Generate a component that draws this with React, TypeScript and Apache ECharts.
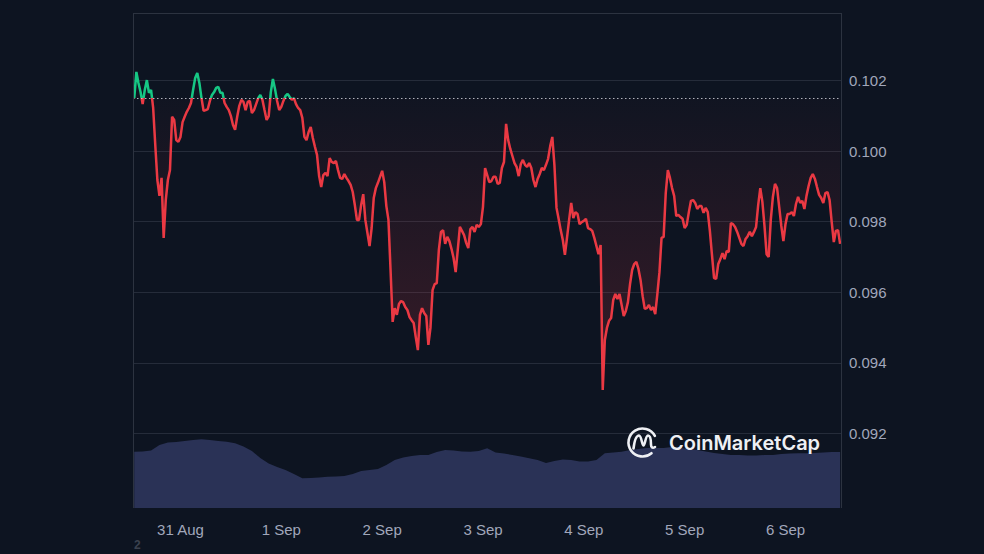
import React, { useEffect, useRef } from "react";
import * as echarts from "echarts";

// Time is measured in hours since 30 Aug 00:00
const START_HOUR = 13;
const PRICE_STEP_HOURS = 0.5;
const VOLUME_STEP_HOURS = 2;
const AXIS_MIN_HOUR = 12.7;
const AXIS_MAX_HOUR = 181.45;

const PRICE_AXIS_MIN = 0.0901;
const PRICE_AXIS_MAX = 0.10391;

const prices = [
  0.10150, 0.10224, 0.10193, 0.10167, 0.10133, 0.10173, 0.10201, 0.10165, 0.10173, 0.10122,
  0.10017, 0.09918, 0.09873, 0.09924, 0.09754, 0.09861, 0.09918, 0.09946, 0.10097, 0.10088,
  0.10031, 0.10026, 0.10040, 0.10082, 0.10097, 0.10111, 0.10122, 0.10136, 0.10173, 0.10207,
  0.10221, 0.10193, 0.10150, 0.10114, 0.10116, 0.10119, 0.10142, 0.10159, 0.10167, 0.10179,
  0.10182, 0.10165, 0.10165, 0.10136, 0.10125, 0.10116, 0.10099, 0.10074, 0.10060, 0.10097,
  0.10128, 0.10145, 0.10139, 0.10116, 0.10139, 0.10142, 0.10108, 0.10116, 0.10133, 0.10150,
  0.10159, 0.10145, 0.10116, 0.10088, 0.10099, 0.10167, 0.10204, 0.10176, 0.10142, 0.10116,
  0.10125, 0.10142, 0.10156, 0.10162, 0.10153, 0.10145, 0.10150, 0.10133, 0.10122, 0.10116,
  0.10094, 0.10040, 0.10031, 0.10054, 0.10068, 0.10037, 0.10012, 0.09989, 0.09929, 0.09898,
  0.09932, 0.09938, 0.09929, 0.09980, 0.09969, 0.09966, 0.09972, 0.09946, 0.09924, 0.09921,
  0.09935, 0.09924, 0.09915, 0.09904, 0.09884, 0.09847, 0.09805, 0.09805, 0.09847, 0.09878,
  0.09805, 0.09768, 0.09731, 0.09782, 0.09867, 0.09895, 0.09910, 0.09927, 0.09944, 0.09912,
  0.09844, 0.09805, 0.09663, 0.09516, 0.09555, 0.09536, 0.09567, 0.09575, 0.09572, 0.09558,
  0.09550, 0.09530, 0.09521, 0.09513, 0.09473, 0.09436, 0.09536, 0.09555, 0.09541, 0.09533,
  0.09451, 0.09499, 0.09606, 0.09623, 0.09626, 0.09720, 0.09771, 0.09776, 0.09737, 0.09757,
  0.09745, 0.09723, 0.09697, 0.09657, 0.09720, 0.09785, 0.09774, 0.09762, 0.09740, 0.09725,
  0.09779, 0.09785, 0.09771, 0.09791, 0.09785, 0.09793, 0.09842, 0.09952, 0.09932, 0.09912,
  0.09915, 0.09927, 0.09927, 0.09907, 0.09910, 0.09952, 0.09969, 0.10077, 0.10031, 0.10006,
  0.09986, 0.09966, 0.09955, 0.09929, 0.09963, 0.09975, 0.09961, 0.09955, 0.09966, 0.09952,
  0.09918, 0.09898, 0.09921, 0.09935, 0.09952, 0.09946, 0.09961, 0.09978, 0.10014, 0.10040,
  0.09961, 0.09839, 0.09808, 0.09776, 0.09748, 0.09706, 0.09754, 0.09805, 0.09853, 0.09810,
  0.09827, 0.09822, 0.09793, 0.09799, 0.09802, 0.09808, 0.09782, 0.09779, 0.09774, 0.09754,
  0.09731, 0.09708, 0.09734, 0.09323, 0.09465, 0.09499, 0.09519, 0.09527, 0.09578, 0.09595,
  0.09581, 0.09595, 0.09564, 0.09533, 0.09547, 0.09572, 0.09623, 0.09663, 0.09680, 0.09686,
  0.09666, 0.09635, 0.09589, 0.09553, 0.09555, 0.09564, 0.09550, 0.09558, 0.09538, 0.09595,
  0.09657, 0.09754, 0.09757, 0.09881, 0.09946, 0.09924, 0.09895, 0.09873, 0.09816, 0.09819,
  0.09813, 0.09808, 0.09782, 0.09791, 0.09827, 0.09859, 0.09861, 0.09853, 0.09836, 0.09844,
  0.09844, 0.09825, 0.09839, 0.09827, 0.09774, 0.09706, 0.09640, 0.09638, 0.09680, 0.09694,
  0.09711, 0.09694, 0.09717, 0.09714, 0.09796, 0.09793, 0.09785, 0.09771, 0.09754, 0.09737,
  0.09731, 0.09751, 0.09759, 0.09771, 0.09759, 0.09771, 0.09785, 0.09847, 0.09895, 0.09856,
  0.09788, 0.09708, 0.09700, 0.09805, 0.09870, 0.09907, 0.09895, 0.09842, 0.09788, 0.09745,
  0.09793, 0.09822, 0.09822, 0.09827, 0.09816, 0.09850, 0.09870, 0.09853, 0.09859, 0.09836,
  0.09873, 0.09901, 0.09924, 0.09935, 0.09921, 0.09898, 0.09876, 0.09867, 0.09853, 0.09881,
  0.09884, 0.09861, 0.09799, 0.09742, 0.09774, 0.09776, 0.09737,
];

// Volume, in millions (relative heights)
const volumes = [
  5.63, 5.65, 5.75, 6.3, 6.55, 6.6, 6.7, 6.8, 6.87, 6.8,
  6.7, 6.63, 6.47, 6.15, 5.7, 5.0, 4.45, 4.1, 3.8, 3.4,
  2.97, 3.0, 3.05, 3.13, 3.15, 3.2, 3.4, 3.7, 3.8, 3.9,
  4.3, 4.8, 5.05, 5.2, 5.3, 5.3, 5.6, 5.8, 5.75, 5.65,
  5.63, 5.7, 5.97, 5.55, 5.45, 5.3, 5.15, 4.97, 4.8, 4.5,
  4.7, 4.85, 4.8, 4.65, 4.65, 4.8, 5.47, 5.55, 5.63, 5.8,
  5.9, 6.0, 6.0, 6.0, 6.1, 6.0, 5.9, 5.8, 5.65, 5.5,
  5.4, 5.3, 5.3, 5.25, 5.25, 5.3, 5.3, 5.4, 5.45, 5.47,
  5.47, 5.5, 5.55, 5.6, 5.6,
];
const VOLUME_AXIS_MAX = 10;

const dayTickHours = [24, 48, 72, 96, 120, 144, 168];
const dayTickLabels = ["31 Aug", "1 Sep", "2 Sep", "3 Sep", "4 Sep", "5 Sep", "6 Sep"];

const RED = "#ea3943";
const GREEN = "#16c784";
const BG = "#0d1421";
const LABEL = "#a1a7bb";
const GRIDLINE = "#252c3a";
const BORDER = "#2c3340";
const VOLUME = "#2a3256";

const LOGO_PATH =
  "M28.36 9.43 A14 14 0 1 0 25 26.72 " +
  "M7 22 C8 14 10 9 12.5 9 C15 9 15.5 19 17 19 C18.5 19 19 9 21.5 9 C24 9 24.5 15 24.5 18 C24.5 21 26 22 28.5 20.5";

let logoRegistered = false;

export default function App() {
  const ref = useRef<HTMLDivElement>(null);

  useEffect(() => {
    if (!ref.current) return;
    if (!logoRegistered) {
      echarts.graphic.registerShape("cmcLogo", echarts.graphic.extendPath(LOGO_PATH, {}));
      logoRegistered = true;
    }
    const chart = echarts.init(ref.current, null, { renderer: "svg" });
    const base = prices[0];
    const labelFont = "'Liberation Sans', Arial, sans-serif";

    const option: any = {
      animation: false,
      backgroundColor: BG,
      grid: [
        { left: 133, right: 142, top: 13, bottom: 53.43 },
        { left: 133, right: 142, top: 408, bottom: 46 },
      ],
      xAxis: [
        { type: "value", gridIndex: 0, min: AXIS_MIN_HOUR, max: AXIS_MAX_HOUR, show: false },
        {
          type: "value",
          gridIndex: 1,
          min: AXIS_MIN_HOUR,
          max: AXIS_MAX_HOUR,
          axisLine: { show: false },
          axisTick: { show: false },
          splitLine: { show: false },
          axisLabel: {
            customValues: dayTickHours,
            formatter: (v: number) => {
              const i = dayTickHours.indexOf(Math.round(v));
              return i >= 0 ? dayTickLabels[i] : "";
            },
            color: LABEL,
            fontSize: 15,
            fontFamily: labelFont,
            margin: 14,
          },
        },
      ],
      yAxis: [
        {
          type: "value",
          gridIndex: 0,
          position: "right",
          min: PRICE_AXIS_MIN,
          max: PRICE_AXIS_MAX,
          splitNumber: 7,
          axisLine: { show: false },
          axisTick: { show: false },
          axisLabel: {
            formatter: (v: number) => v.toFixed(3),
            showMinLabel: false,
            showMaxLabel: false,
            color: LABEL,
            fontSize: 15,
            fontFamily: labelFont,
            margin: 7,
          },
          splitLine: {
            show: true,
            showMinLine: false,
            showMaxLine: false,
            lineStyle: { color: GRIDLINE, width: 1 },
          },
        },
        { type: "value", gridIndex: 1, min: 0, max: VOLUME_AXIS_MAX, show: false },
      ],
      visualMap: {
        type: "piecewise",
        show: false,
        seriesIndex: 0,
        dimension: 1,
        pieces: [
          { gte: 0, lte: base, color: RED },
          { gt: base, lte: 1, color: GREEN },
        ],
      },
      series: [
        {
          type: "line",
          xAxisIndex: 0,
          yAxisIndex: 0,
          data: prices.map((p, i) => [START_HOUR + i * PRICE_STEP_HOURS, p]),
          symbol: "none",
          showSymbol: false,
          silent: true,
          z: 4,
          lineStyle: { width: 2.5 },
          areaStyle: {
            origin: base,
            opacity: 1,
            color: new echarts.graphic.LinearGradient(0, 0, 0, 1, [
              { offset: 0, color: "rgba(234,57,67,0)" },
              { offset: 1, color: "rgba(234,57,67,0.2)" },
            ]),
          },
          markLine: {
            silent: true,
            precision: 6,
            symbol: ["none", "none"],
            label: { show: false },
            lineStyle: { color: "rgba(214,218,226,0.8)", type: [1.5, 2.5], width: 1.2 },
            data: [{ yAxis: base }],
          },
        },
        {
          type: "line",
          xAxisIndex: 1,
          yAxisIndex: 1,
          data: volumes.map((v, i) => [START_HOUR + i * VOLUME_STEP_HOURS, v]),
          symbol: "none",
          showSymbol: false,
          silent: true,
          z: 1,
          lineStyle: { width: 0, color: VOLUME },
          itemStyle: { color: VOLUME },
          areaStyle: { color: VOLUME, opacity: 1 },
        },
      ],
      graphic: [
        { type: "line", z: 100, shape: { x1: 133, y1: 13.5, x2: 842, y2: 13.5 }, style: { stroke: BORDER, lineWidth: 1 } },
        { type: "line", z: 100, shape: { x1: 133.5, y1: 13, x2: 133.5, y2: 508 }, style: { stroke: BORDER, lineWidth: 1 } },
        { type: "line", z: 100, shape: { x1: 841.5, y1: 13, x2: 841.5, y2: 508 }, style: { stroke: BORDER, lineWidth: 1 } },
        {
          type: "cmcLogo",
          z: 100,
          x: 626.5,
          y: 426.5,
          style: { stroke: "#eef0f4", fill: "none", lineWidth: 2.6, lineCap: "round", lineJoin: "round" },
        },
        {
          type: "text",
          z: 100,
          x: 669,
          y: 443,
          style: {
            text: "CoinMarketCap",
            fill: "#eef0f4",
            fontSize: 20,
            fontWeight: 600,
            fontFamily: "Inter, 'Open Sans', sans-serif",
            textVerticalAlign: "middle",
            verticalAlign: "middle",
          },
        },
        {
          type: "text",
          z: 100,
          x: 134,
          y: 539,
          style: { text: "2", fill: "#3b414e", fontSize: 12, fontWeight: "bold", fontFamily: labelFont },
        },
      ],
    };

    chart.setOption(option);
    return () => chart.dispose();
  }, []);

  return (
    <div
      ref={ref}
      style={{ position: "absolute", left: 0, top: 0, width: 984, height: 554, background: BG }}
    />
  );
}
